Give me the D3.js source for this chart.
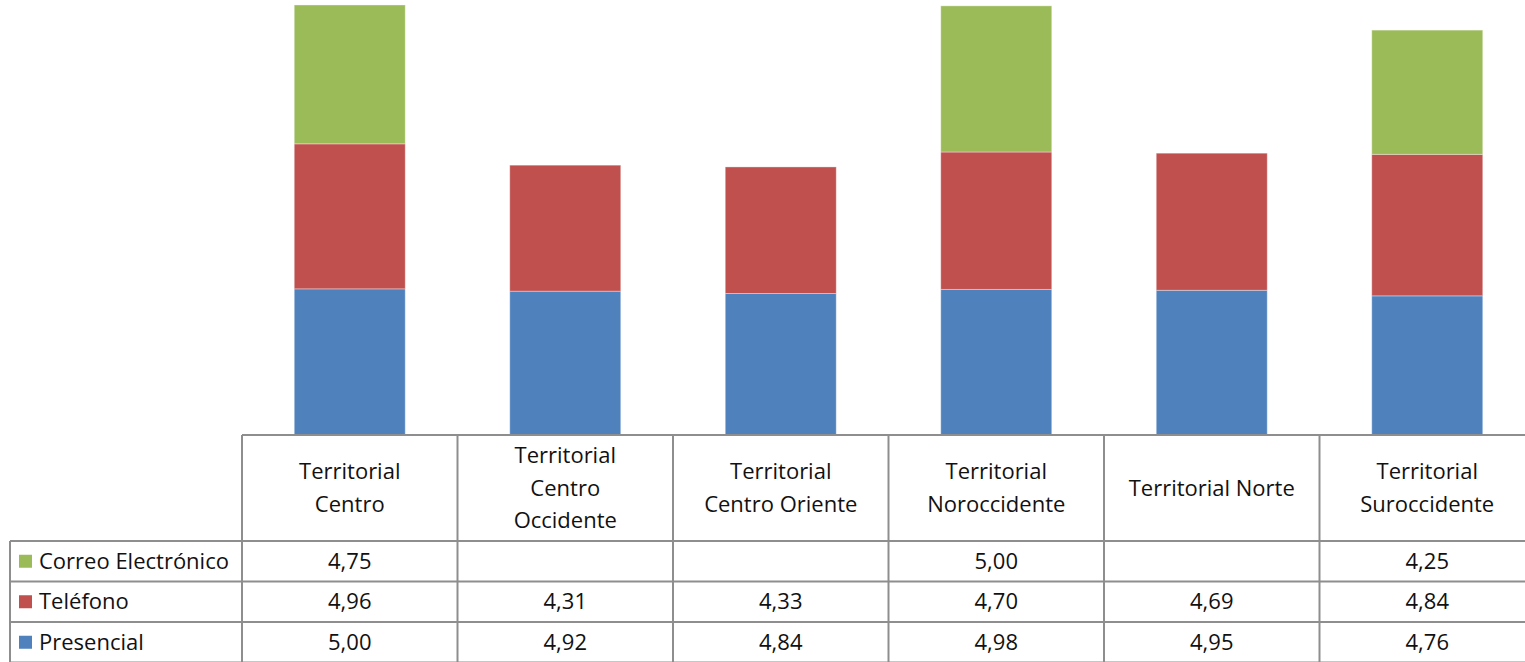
<!DOCTYPE html>
<html>
<head>
<meta charset="utf-8">
<script src="https://cdn.jsdelivr.net/npm/d3@7"></script>
<style>
  html, body { margin: 0; padding: 0; background: #fff; overflow: hidden; }
  svg { display: block; font-family: "Open Sans", "Noto Sans", sans-serif; }
</style>
</head>
<body>
<svg id="chart" width="1525" height="662"></svg>
<script>
// Regional offices and their average ratings per attention channel
const categories = [
  "Territorial Centro",
  "Territorial Centro Occidente",
  "Territorial Centro Oriente",
  "Territorial Noroccidente",
  "Territorial Norte",
  "Territorial Suroccidente"
];
// Header text wrapped the way it appears in the table cells
const headerLines = [
  ["Territorial", "Centro"],
  ["Territorial", "Centro", "Occidente"],
  ["Territorial", "Centro Oriente"],
  ["Territorial", "Noroccidente"],
  ["Territorial Norte"],
  ["Territorial", "Suroccidente"]
];
const seriesNames = ["Presencial", "Teléfono", "Correo Electrónico"];
const presencial = [5.00, 4.92, 4.84, 4.98, 4.95, 4.76];
const telefono   = [4.96, 4.31, 4.33, 4.70, 4.69, 4.84];
const correo     = [4.75, null, null, 5.00, null, 4.25];
const colors = ["#4F81BD", "#C0504D", "#9BBB59"];

const svg = d3.select("#chart");
const baseY = 435;
const tableLeft = 242, colW = 215.5;
const rowH = 40.5, headerH = 106;
const gridColor = "#8e8e8e";
const fontSize = 22;

const rows = categories.map((c, i) => ({
  cat: c,
  "Presencial": presencial[i] ?? 0,
  "Teléfono": telefono[i] ?? 0,
  "Correo Electrónico": correo[i] ?? 0
}));
const stacked = d3.stack().keys(seriesNames)(rows);

const x = d3.scaleBand().domain(categories)
  .range([tableLeft, tableLeft + colW * categories.length]).padding(0);
const y = d3.scaleLinear().domain([0, 15]).range([baseY, -3.5]);
const barW = x.bandwidth() * 0.515;
const color = d3.scaleOrdinal().domain(seriesNames).range(colors);

// Stacked columns
svg.append("g").selectAll("g").data(stacked).join("g")
  .attr("fill", d => color(d.key))
  .selectAll("rect").data(d => d.filter(p => p[1] - p[0] > 0)).join("rect")
  .attr("x", d => x(d.data.cat) + (x.bandwidth() - barW) / 2)
  .attr("width", barW)
  .attr("y", d => y(d[1]))
  .attr("height", d => y(d[0]) - y(d[1]))
  .attr("stroke", "rgba(255,255,255,0.35)")
  .attr("stroke-width", 1);

// Data table
const table = svg.append("g");
const rowTop = baseY + headerH;
const tableRows = [
  { name: "Correo Electrónico", values: correo },
  { name: "Teléfono", values: telefono },
  { name: "Presencial", values: presencial }
];
const tableRight = tableLeft + colW * categories.length;
const legendLeft = 10;

const line = (x1, y1, x2, y2) => table.append("line")
  .attr("x1", x1).attr("y1", y1).attr("x2", x2).attr("y2", y2)
  .attr("stroke", gridColor).attr("stroke-width", 2);

// horizontal rules
line(tableLeft, baseY, tableRight, baseY);
for (let r = 0; r <= tableRows.length; r++) {
  line(legendLeft, rowTop + r * rowH, tableRight, rowTop + r * rowH);
}
// vertical rules
line(legendLeft, rowTop, legendLeft, 662);
categories.forEach((c, i) => line(x(c), baseY, x(c), 662));
line(tableRight, baseY, tableRight, 662);

// header labels
const lineGap = 32.5;
categories.forEach((c, i) => {
  const lines = headerLines[i];
  const cy = baseY + headerH / 2;
  const t = table.append("text")
    .attr("x", x(c) + x.bandwidth() / 2)
    .attr("text-anchor", "middle")
    .attr("font-size", fontSize)
    .attr("fill", "#111");
  lines.forEach((ln, k) => {
    t.append("tspan")
      .attr("x", x(c) + x.bandwidth() / 2)
      .attr("y", cy + (k - (lines.length - 1) / 2) * lineGap)
      .attr("dy", "0.35em")
      .text(ln);
  });
});

// series rows with legend keys
const fmt = v => v == null ? "" : d3.format(".2f")(v).replace(".", ",");
tableRows.forEach((r, k) => {
  const cy = rowTop + k * rowH + rowH / 2;
  table.append("rect")
    .attr("x", 19).attr("y", cy - 6.5)
    .attr("width", 13).attr("height", 13)
    .attr("fill", color(r.name));
  table.append("text")
    .attr("x", 39).attr("y", cy).attr("dy", "0.35em")
    .attr("font-size", fontSize).attr("fill", "#111")
    .text(r.name);
  categories.forEach((c, i) => {
    table.append("text")
      .attr("x", x(c) + x.bandwidth() / 2).attr("y", cy).attr("dy", "0.35em")
      .attr("text-anchor", "middle")
      .attr("font-size", fontSize).attr("fill", "#111")
      .text(fmt(r.values[i]));
  });
});
</script>
</body>
</html>
